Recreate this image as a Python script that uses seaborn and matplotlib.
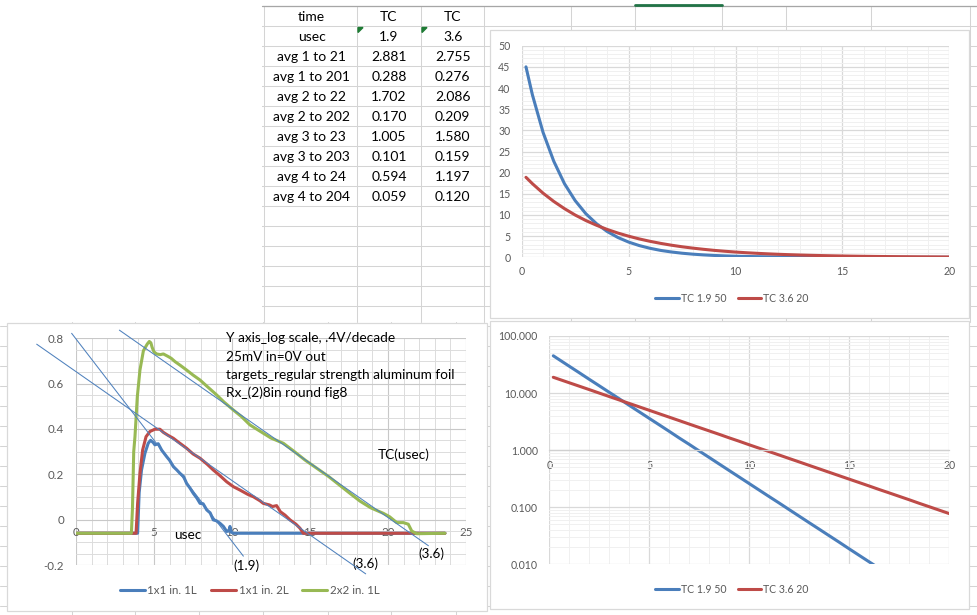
import numpy as np
import pandas as pd
import matplotlib
matplotlib.use("Agg")
import matplotlib.pyplot as plt
import matplotlib.ticker as mticker
from matplotlib.patches import Rectangle, Polygon
import seaborn as sns

# ---- spreadsheet table ----
row_names = ["time", "usec", "avg 1 to 21", "avg 1 to 201", "avg 2 to 22", "avg 2 to 202",
             "avg 3 to 23", "avg 3 to 203", "avg 4 to 24", "avg 4 to 204"]
col_tc19 = ["TC", "1.9", "2.881", "0.288", "1.702", "0.170", "1.005", "0.101", "0.594", "0.059"]
col_tc36 = ["TC", "3.6", "2.755", "0.276", "2.086", "0.209", "1.580", "0.159", "1.197", "0.120"]

# ---- decay curves (right hand charts) ----
t = [0.2, 0.5, 1.0, 1.5, 2.0, 2.5, 3.0, 3.5, 4.0, 4.5, 5.0, 5.5, 6.0, 6.5, 7.0, 7.5,
     8.0, 8.5, 9.0, 9.5, 10.0, 10.5, 11.0, 11.5, 12.0, 12.5, 13.0, 13.5, 14.0, 14.5,
     15.0, 15.5, 16.0, 16.5, 17.0, 17.5, 18.0, 18.5, 19.0, 19.5, 20.0]
tc19_50 = [45.0, 38.4, 29.5, 22.7, 17.4, 13.4, 10.3, 7.93, 6.09, 4.68, 3.60, 2.77, 2.13,
           1.63, 1.26, 0.965, 0.742, 0.570, 0.438, 0.337, 0.259, 0.199, 0.153, 0.118,
           0.0905, 0.0695, 0.0534, 0.0411, 0.0316, 0.0243, 0.0186, 0.0143, 0.0110,
           0.00847, 0.00651, 0.0050, 0.00385, 0.00296, 0.00227, 0.00175, 0.00134]
tc36_20 = [18.9, 17.4, 15.15, 13.2, 11.5, 9.99, 8.69, 7.57, 6.58, 5.73, 4.99, 4.34, 3.78,
           3.29, 2.86, 2.49, 2.17, 1.89, 1.64, 1.43, 1.24, 1.08, 0.942, 0.820, 0.713,
           0.621, 0.540, 0.470, 0.409, 0.356, 0.310, 0.270, 0.235, 0.204, 0.178, 0.155,
           0.135, 0.117, 0.102, 0.0888, 0.0773]

# ---- measured pulses (lower left chart) ----
x_1x1_1L = [0, 3.95, 4.05, 4.20, 4.42, 4.63, 4.78, 4.95, 5.06, 5.27, 5.49, 5.81, 6.00,
            6.24, 6.45, 6.67, 6.90, 7.09, 7.30, 7.52, 7.75, 7.95, 8.15, 8.38, 8.60, 8.80,
            9.00, 9.23, 9.45, 9.66, 9.80, 9.87, 9.95, 10.10, 23.65]
y_1x1_1L = [-0.06, -0.06, 0.12, 0.219, 0.293, 0.337, 0.35, 0.34, 0.33, 0.335, 0.307, 0.278,
            0.262, 0.234, 0.22, 0.204, 0.19, 0.16, 0.14, 0.116, 0.095, 0.072, 0.07, 0.043,
            0.03, -0.001, -0.005, -0.016, -0.03, -0.052, -0.05, -0.03, -0.055, -0.06, -0.06]
x_1x1_2L = [0, 3.85, 3.95, 4.10, 4.27, 4.49, 4.74, 5.06, 5.38, 5.60, 5.90, 6.24, 6.60, 7.09,
            7.50, 7.95, 8.40, 8.80, 9.20, 9.66, 10.10, 10.50, 11.00, 11.37, 11.80, 12.00,
            12.40, 12.60, 12.86, 13.10, 13.40, 13.72, 14.10, 14.36, 14.57, 23.65]
y_1x1_2L = [-0.06, -0.06, 0.072, 0.204, 0.307, 0.366, 0.389, 0.399, 0.399, 0.385, 0.372,
            0.359, 0.34, 0.315, 0.29, 0.271, 0.245, 0.219, 0.196, 0.167, 0.145, 0.131,
            0.112, 0.101, 0.083, 0.072, 0.065, 0.058, 0.062, 0.035, 0.02, -0.001, -0.02,
            -0.038, -0.06, -0.06]
x_2x2_1L = [0, 3.55, 3.62, 3.70, 3.78, 3.93, 4.10, 4.32, 4.57, 4.70, 4.80, 4.88, 5.00, 5.17,
            5.40, 5.60, 5.90, 6.10, 6.35, 6.70, 7.09, 7.50, 7.95, 8.40, 9.02, 9.50, 10.08,
            10.60, 11.15, 11.80, 12.50, 13.29, 14.00, 14.70, 15.43, 16.20, 16.90, 17.56,
            18.20, 18.90, 19.70, 20.10, 20.56, 20.98, 21.30, 21.52, 21.84, 23.65]
y_2x2_1L = [-0.06, -0.06, 0.05, 0.30, 0.366, 0.542, 0.66, 0.745, 0.775, 0.786, 0.78, 0.76,
            0.74, 0.731, 0.728, 0.731, 0.72, 0.712, 0.697, 0.68, 0.66, 0.638, 0.616, 0.588,
            0.55, 0.518, 0.484, 0.455, 0.418, 0.39, 0.36, 0.337, 0.30, 0.262, 0.227, 0.19,
            0.152, 0.116, 0.082, 0.052, 0.028, 0.013, -0.013, -0.013, -0.02, -0.05, -0.062,
            -0.06]

# hand drawn time-constant lines: (x0, y0, x1, y1, label, label_x, label_y)
tc_lines = [(-0.28, 0.822, 10.73, -0.161, "(1.9)", 10.9, -0.203),
            (-2.52, 0.774, 18.57, -0.239, "(3.6)", 18.53, -0.194),
            (2.78, 0.836, 22.59, -0.115, "(3.6)", 22.76, -0.151)]

notes = ["Y axis_log scale, .4V/decade", "25mV in=0V out",
         "targets_regular strength aluminum foil", "Rx_(2)8in round fig8"]

BLUE, RED, GREEN = "#4A7EBB", "#BE4B48", "#98B954"
GRAY_TXT = "#595959"

sns.set_style("white")
plt.rcParams["font.family"] = ["Lato", "DejaVu Sans"]

W, H = 977, 615
fig = plt.figure(figsize=(W / 100, H / 100), dpi=100)


def box(l, t_, r, b):
    return [l / W, 1 - b / H, (r - l) / W, (b - t_) / H]


# ---- sheet background ----
bg = fig.add_axes([0, 0, 1, 1], zorder=-5)
bg.set_xlim(0, W)
bg.set_ylim(H, 0)
bg.axis("off")
for yy in range(6, H, 20):
    bg.plot([0, W], [yy, yy], color="#d4d4d4", lw=0.75)
for xx in [264, 357, 421, 484, 571, 635, 722, 786, 871, 970]:
    bg.plot([xx, xx], [6, 322], color="#d4d4d4", lw=0.75)
for xx in [72, 135, 199, 263, 328, 391, 456]:
    bg.plot([xx, xx], [322, H], color="#d4d4d4", lw=0.75)
bg.add_patch(Rectangle((0, 0), 262, 322, facecolor="white", edgecolor="none", zorder=3))
bg.plot([262, W], [6, 6], color="#a6a6a6", lw=0.9, zorder=4)
bg.plot([635, 722], [4.5, 4.5], color="#217346", lw=2, zorder=5)
for cx in [357, 421]:
    bg.add_patch(Polygon([(cx + 1, 27.5), (cx + 6, 27.5), (cx + 1, 32.5)],
                         color="#1e7b34", zorder=5))
col_x = [311.7, 389, 452.7]
for i in range(len(row_names)):
    yy = 17 + 20 * i
    for cx, col in zip(col_x, [row_names, col_tc19, col_tc36]):
        bg.text(cx, yy, col[i], ha="center", va="center", fontsize=10, color="black", zorder=6)

for (l, t_, r, b) in [(490, 30, 969, 318), (490, 321, 969, 609), (7, 323, 487, 611)]:
    bg.add_patch(Rectangle((l, t_), r - l, b - t_, facecolor="white",
                           edgecolor="#d9d9d9", lw=0.9, zorder=7))

decay = pd.DataFrame({"t": t + t, "v": tc19_50 + tc36_20,
                      "s": ["TC 1.9 50"] * len(t) + ["TC 3.6 20"] * len(t)})

# ---- top right: linear ----
ax1 = fig.add_axes(box(521.7, 45.7, 949.3, 257.3))
sns.lineplot(data=decay, x="t", y="v", hue="s", palette=[BLUE, RED], lw=2.2, ax=ax1)
ax1.set_xlim(0, 20)
ax1.set_ylim(0, 50)
ax1.set_xticks(range(0, 21, 5))
ax1.set_xticks(range(0, 21), minor=True)
ax1.set_yticks(range(0, 51, 5))
ax1.set_yticks(range(0, 51), minor=True)
ax1.grid(which="major", color="#d9d9d9", lw=0.9)
ax1.grid(which="minor", color="#f0f0f0", lw=0.7)
ax1.set_axisbelow(True)
for sp in ax1.spines.values():
    sp.set_visible(False)
ax1.tick_params(which="both", length=0, labelsize=7.6, labelcolor=GRAY_TXT)
ax1.tick_params(axis="x", pad=6.5)
ax1.tick_params(axis="y", pad=8)
ax1.set_xlabel("")
ax1.set_ylabel("")
ax1.legend(loc="center", bbox_to_anchor=(732 / W, 1 - 298.3 / H), bbox_transform=fig.transFigure,
           ncol=2, frameon=False, fontsize=7.6, handlelength=2.2, handletextpad=0.2,
           columnspacing=1.1, labelcolor=GRAY_TXT)

# ---- bottom right: log ----
ax2 = fig.add_axes(box(549.3, 336, 949.3, 564.3))
sns.lineplot(data=decay, x="t", y="v", hue="s", palette=[BLUE, RED], lw=2.2, ax=ax2)
ax2.set_yscale("log")
ax2.set_xlim(0, 20)
ax2.set_ylim(0.01, 100)
ax2.set_xticks(range(0, 21, 5))
ax2.set_xticks(range(0, 21), minor=True)
ax2.yaxis.set_major_locator(mticker.LogLocator(base=10, numticks=10))
ax2.yaxis.set_minor_locator(mticker.LogLocator(base=10, subs=np.arange(2, 10), numticks=10))
ax2.yaxis.set_major_formatter(mticker.FormatStrFormatter("%.3f"))
ax2.yaxis.set_minor_formatter(mticker.NullFormatter())
ax2.grid(which="major", color="#d9d9d9", lw=0.9)
ax2.grid(which="minor", color="#f0f0f0", lw=0.7)
ax2.set_axisbelow(True)
for sp in ax2.spines.values():
    sp.set_visible(False)
ax2.spines["bottom"].set_visible(True)
ax2.spines["bottom"].set_position(("data", 1))
ax2.spines["bottom"].set_color("#d0d0d0")
ax2.spines["bottom"].set_linewidth(0.9)
ax2.tick_params(which="both", length=0, labelsize=7.6, labelcolor=GRAY_TXT)
ax2.tick_params(axis="x", pad=7)
ax2.tick_params(axis="y", pad=8.3)
ax2.set_xlabel("")
ax2.set_ylabel("")
ax2.legend(loc="center", bbox_to_anchor=(732 / W, 1 - 589.3 / H), bbox_transform=fig.transFigure,
           ncol=2, frameon=False, fontsize=7.6, handlelength=2.2, handletextpad=0.2,
           columnspacing=1.1, labelcolor=GRAY_TXT)

# ---- bottom left: pulses ----
ax3 = fig.add_axes(box(76, 338.3, 466, 565))
base = -0.06
for xs, ys, c, lab in [(x_1x1_1L, y_1x1_1L, BLUE, "1x1 in. 1L"),
                       (x_1x1_2L, y_1x1_2L, RED, "1x1 in. 2L"),
                       (x_2x2_1L, y_2x2_1L, GREEN, "2x2 in. 1L")]:
    sns.lineplot(x=xs, y=ys, color=c, lw=2.2, sort=False, label=lab, ax=ax3)
for x0, y0, x1, y1, lab, lx, ly in tc_lines:
    ax3.plot([x0, x1], [y0, y1], color="#4F81BD", lw=0.75, clip_on=False, zorder=4)
    ax3.text(lx, ly, lab, ha="center", va="center", fontsize=9.7, color="black")
ax3.set_xlim(0, 25)
ax3.set_ylim(-0.2, 0.8)
ax3.set_xticks(range(0, 26, 5))
ax3.set_xticks(range(0, 26), minor=True)
ax3.set_yticks([-0.2, 0, 0.2, 0.4, 0.6, 0.8])
ax3.set_yticklabels(["-0.2", "0", "0.2", "0.4", "0.6", "0.8"])
ax3.set_yticks(np.arange(-0.2, 0.81, 0.05), minor=True)
ax3.grid(which="major", color="#c8c8c8", lw=0.8)
ax3.grid(which="minor", color="#dcdcdc", lw=0.7)
ax3.set_axisbelow(True)
for sp in ax3.spines.values():
    sp.set_visible(False)
ax3.spines["bottom"].set_position(("data", base))
ax3.tick_params(which="both", length=0, labelsize=8.3, labelcolor=GRAY_TXT)
ax3.tick_params(axis="x", pad=-4.5)
ax3.tick_params(axis="y", pad=8.6)
for i, s in enumerate(notes):
    ax3.text(9.62, 0.8 - 0.0805 * i, s, ha="left", va="center", fontsize=9.8, color="black")
ax3.text(21.0, 0.288, "TC(usec)", ha="center", va="center", fontsize=9.8, color="black")
ax3.text(7.15, -0.068, "usec", ha="center", va="center", fontsize=9.8, color="black")
ax3.legend(loc="center", bbox_to_anchor=(249.5 / W, 1 - 591 / H), bbox_transform=fig.transFigure,
           ncol=3, frameon=False, fontsize=8.3, handlelength=2.2, handletextpad=0.2,
           columnspacing=1.2, labelcolor=GRAY_TXT)

fig.savefig("out.png", dpi=100)
